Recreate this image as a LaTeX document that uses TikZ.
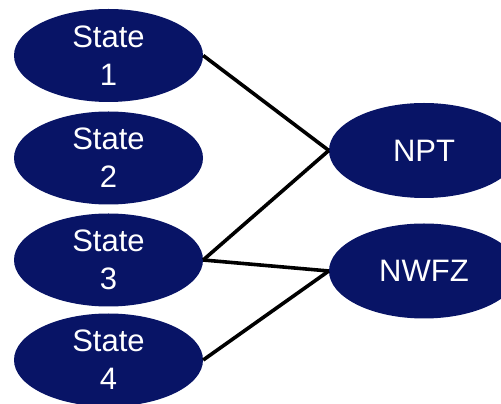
\documentclass[tikz,border=0pt]{standalone}
\usepackage{fontspec}
\setmainfont{Liberation Sans}
\usetikzlibrary{shapes.geometric}
\definecolor{navy}{RGB}{8,20,102}
\begin{document}
\begin{tikzpicture}[x=1pt,y=1pt,
  st/.style={ellipse,fill=navy,text=white,minimum width=189pt,minimum height=93pt,inner sep=0pt,align=center,font=\fontsize{31}{38}\selectfont},
  link/.style={line width=3.6pt,black}]
\useasboundingbox (0,0) rectangle (501,404);
\clip (0,0) rectangle (501,404);
\node[st] (s1) at (108.5,348.5) {State\\1};
\node[st] (s2) at (108.5,246) {State\\2};
\node[st] (s3) at (108.5,144) {State\\3};
\node[st] (s4) at (108.5,44) {State\\4};
\node[st,minimum width=190pt,minimum height=95pt] (npt) at (424,253.5) {NPT};
\node[st,minimum width=190pt,minimum height=95pt] (nwfz) at (424,133) {NWFZ};
\draw[link] (s1.east) -- (npt.west);
\draw[link] (s3.east) -- (npt.west);
\draw[link] (s3.east) -- (nwfz.west);
\draw[link] (s4.east) -- (nwfz.west);
\end{tikzpicture}
\end{document}
